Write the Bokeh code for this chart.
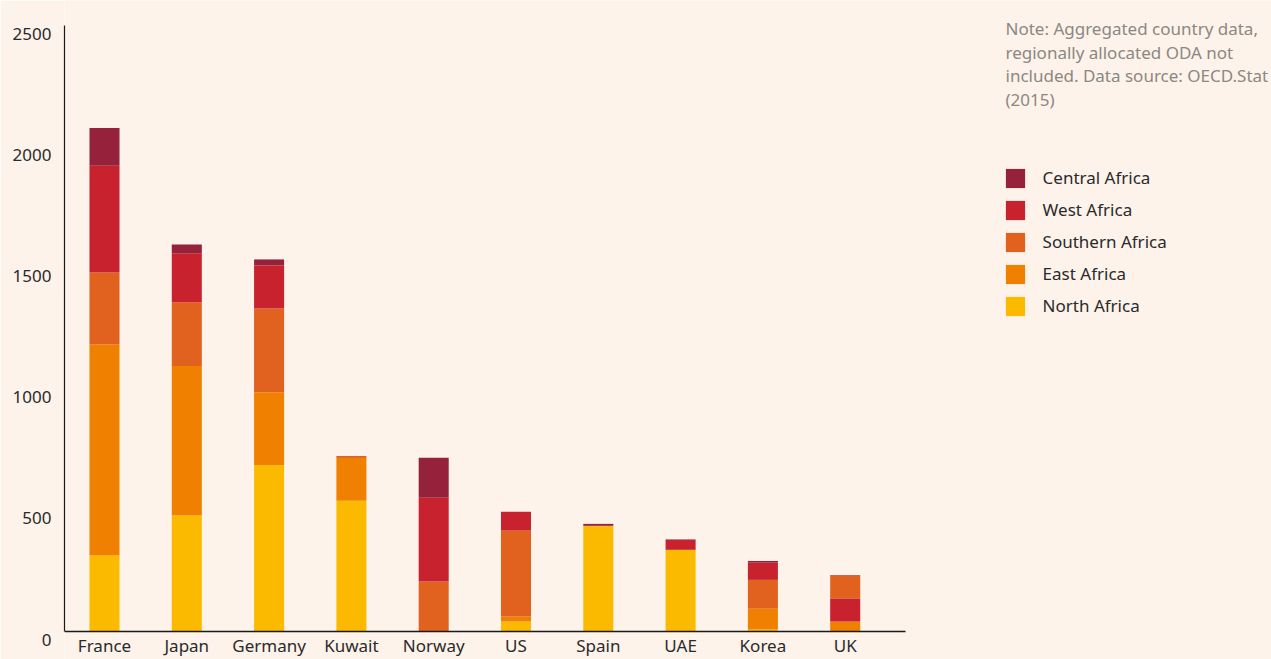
from bokeh.plotting import figure
from bokeh.models import (ColumnDataSource, FixedTicker, Legend, LegendItem, Label,
                          Range1d, LinearAxis)
from bokeh.embed import file_html
from bokeh.resources import INLINE

countries = ["France", "Japan", "Germany", "Kuwait", "Norway", "US", "Spain", "UAE", "Korea", "UK"]
north_africa = [314, 479, 687, 539, 0, 41, 434, 337, 8, 0]
east_africa = [871, 616, 300, 177, 0, 21, 2, 0, 86, 41]
southern_africa = [296, 263, 346, 8, 206, 354, 0, 0, 119, 95]
west_africa = [440, 202, 177, 0, 346, 78, 0, 41, 71, 95]
central_africa = [156, 37, 25, 0, 165, 0, 8, 2, 7, 2]

series_names = ["North Africa", "East Africa", "Southern Africa", "West Africa", "Central Africa"]
series_values = [north_africa, east_africa, southern_africa, west_africa, central_africa]
colors = ["#FBBA00", "#F08100", "#E0621E", "#C8222E", "#96213A"]
# stacking order (bottom to top) per country; UK draws West below Southern
stack_orders = {c: [0, 1, 2, 3, 4] for c in countries}
stack_orders["UK"] = [0, 1, 3, 2, 4]

y_ticks = [0, 500, 1000, 1500, 2000, 2500]
note_lines = ["Note: Aggregated country data,",
              "regionally allocated ODA not",
              "included. Data source: OECD.Stat",
              "(2015)"]

BG = "#FDF3EA"
FONT = "Noto Sans"
TXT = "#2a2a2a"

W, H = 1271, 659
LEFT, TOP, ZERO_Y = 64, 25, 631          # page pixels of frame left, 2500 line, 0 line
PX_PER_UNIT_Y = (ZERO_Y - TOP) / 2500.0
PX_PER_CAT = 82.3
X_START = -0.486
X_AXIS_END = 9.735
LABEL_SHIFT = 8 / PX_PER_UNIT_Y           # y tick labels sit ~8px below their ticks

y_start = -(H - ZERO_Y) / PX_PER_UNIT_Y
y_end = 2500 + TOP / PX_PER_UNIT_Y
x_end = X_START + (W - LEFT) / PX_PER_CAT

xs = list(range(len(countries)))
bottoms = [[0] * len(countries) for _ in series_names]
tops = [[0] * len(countries) for _ in series_names]
for j, c in enumerate(countries):
    acc = 0
    for s in stack_orders[c]:
        bottoms[s][j] = acc
        acc += series_values[s][j]
        tops[s][j] = acc

p = figure(width=W, height=H,
           x_range=Range1d(X_START, x_end), y_range=Range1d(y_start, y_end),
           y_axis_location=None,
           output_backend="svg", toolbar_location=None,
           min_border_left=LEFT, min_border_right=0,
           min_border_top=0, min_border_bottom=0,
           background_fill_color=BG, border_fill_color=BG,
           outline_line_color=None)
p.xgrid.visible = False
p.ygrid.visible = False
p.extra_y_ranges = {"ylab": Range1d(y_start + LABEL_SHIFT, y_end + LABEL_SHIFT)}

renderers = []
for s, name in enumerate(series_names):
    src = ColumnDataSource(dict(x=xs, bottom=bottoms[s], top=tops[s]))
    r = p.vbar(x="x", width=0.365, bottom="bottom", top="top", source=src,
               fill_color=colors[s], line_color=None)
    renderers.append(r)

xa = p.xaxis[0]
xa.fixed_location = 0
xa.bounds = (X_START, X_AXIS_END)
xa.ticker = FixedTicker(ticks=xs)
xa.major_label_overrides = {i: c for i, c in enumerate(countries)}
xa.major_tick_line_color = None
xa.major_tick_out = 0
xa.major_tick_in = 0
xa.minor_tick_line_color = None
xa.axis_line_color = "#1a1a1a"
xa.axis_line_width = 1.5
xa.major_label_text_font = FONT
xa.major_label_text_font_size = "17px"
xa.major_label_text_color = TXT
xa.major_label_standoff = 2

ya = LinearAxis(y_range_name="ylab", ticker=FixedTicker(ticks=y_ticks),
                bounds=(LABEL_SHIFT, 2500 + LABEL_SHIFT))
ya.major_tick_line_color = None
ya.major_tick_out = 0
ya.major_tick_in = 0
ya.minor_tick_line_color = None
ya.axis_line_color = "#1a1a1a"
ya.axis_line_width = 1.2
ya.major_label_text_font = FONT
ya.major_label_text_font_size = "17px"
ya.major_label_text_color = TXT
ya.major_label_standoff = 13
p.add_layout(ya, "left")

# legend: bar glyph swatches are drawn at 80% of the glyph box
GLYPH = 24
items = [LegendItem(label=series_names[s], renderers=[renderers[s]]) for s in [4, 3, 2, 1, 0]]
legend_h = 5 * GLYPH + 4 * 8
legend = Legend(items=items, location=(1002.6 - LEFT, H - 165.6 - legend_h),
                orientation="vertical",
                glyph_width=GLYPH, glyph_height=GLYPH, label_height=GLYPH, spacing=8,
                label_standoff=16, padding=0, margin=0,
                border_line_color=None, background_fill_alpha=0,
                label_text_font=FONT, label_text_font_size="17px",
                label_text_color=TXT)
p.add_layout(legend)

note_x = X_START + (1005 - LEFT) / PX_PER_CAT
for i, line in enumerate(note_lines):
    baseline_px = 28 + 23.6 * i
    p.add_layout(Label(x=note_x, y=(ZERO_Y - baseline_px) / PX_PER_UNIT_Y, text=line,
                       text_font=FONT, text_font_size="17px", text_color="#8c8782",
                       text_baseline="alphabetic", text_align="left"))

open("out.html", "w").write(file_html(p, INLINE))
